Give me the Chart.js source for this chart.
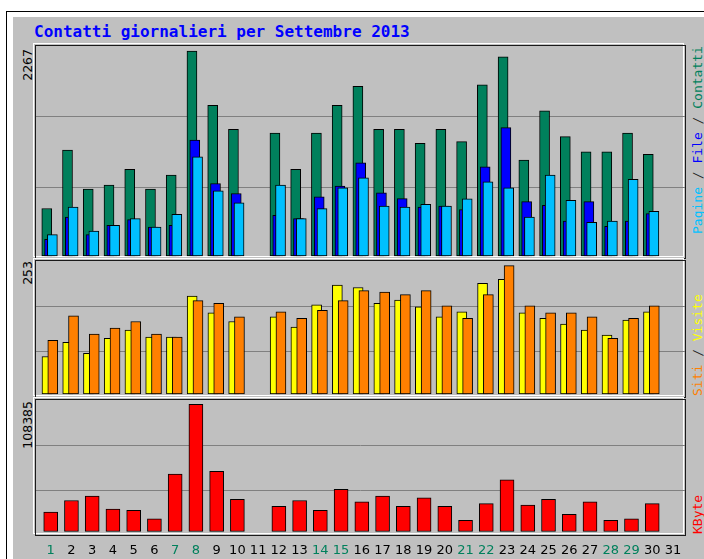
<!DOCTYPE html>
<html>
<head>
<meta charset="utf-8">
<script src="https://cdn.jsdelivr.net/npm/chart.js@4.4.0/dist/chart.umd.min.js"></script>
<style>
body{margin:0;background:#fff;width:704px;height:559px;overflow:hidden;position:relative}
#frame{position:absolute;left:6px;top:11px;width:760px;height:600px;border:1px solid #000;background:#fff}
#bg{position:absolute;left:13px;top:17px;width:760px;height:600px;background:#c0c0c0}
.hl{position:absolute;border:1px solid #fff;box-sizing:border-box}
.panel{position:absolute;border:1px solid #1a1a1a;box-sizing:border-box}
canvas{position:absolute}
#title{position:absolute;left:34px;top:24px;font:bold 16px/16px "DejaVu Sans Mono",monospace;color:#0000ff;white-space:nowrap}
.ylab{position:absolute;width:60px;font:12.5px/13px "DejaVu Sans",sans-serif;color:#000;text-align:right;white-space:nowrap;transform-origin:0 0;transform:rotate(-90deg)}
.rlab{position:absolute;font:13px/13px "DejaVu Sans Mono",monospace;color:#222;white-space:nowrap;transform-origin:0 0;transform:rotate(-90deg)}
</style>
</head>
<body>
<div id="frame"></div>
<div id="bg"></div>
<div id="title">Contatti giornalieri per Settembre 2013</div>

<div class="hl" style="left:33px;top:43px;width:651px;height:214px"></div>
<div class="panel" style="left:35px;top:45px;width:651px;height:214px"></div>
<div class="hl" style="left:33px;top:258px;width:651px;height:138px"></div>
<div class="panel" style="left:35px;top:260px;width:651px;height:138px"></div>
<div class="hl" style="left:33px;top:397px;width:651px;height:137px"></div>
<div class="panel" style="left:35px;top:399px;width:651px;height:137px"></div>

<div class="ylab" style="left:21px;top:109px">2267</div>
<div class="ylab" style="left:21px;top:321px">253</div>
<div class="ylab" style="left:21px;top:461px">108385</div>

<div class="rlab" style="left:691px;top:234px"><span style="color:#00c0ff">Pagine</span> / <span style="color:#0000ff">File</span> / <span style="color:#00805c">Contatti</span></div>
<div class="rlab" style="left:691px;top:396px"><span style="color:#ff8000">Siti</span> / <span style="color:#ffff00">Visite</span></div>
<div class="rlab" style="left:691px;top:534px"><span style="color:#ff0000">KByte</span></div>

<canvas id="hitsChart" width="649" height="212" style="left:36px;top:46px"></canvas>
<canvas id="visitsChart" width="649" height="136" style="left:36px;top:261px"></canvas>
<canvas id="kbChart" width="649" height="161" style="left:36px;top:400px"></canvas>

<script>
const days = [1,2,3,4,5,6,7,8,9,10,11,12,13,14,15,16,17,18,19,20,21,22,23,24,25,26,27,28,29,30]
const tickLabels = ["1","2","3","4","5","6","7","8","9","10","11","12","13","14","15","16","17","18","19","20","21","22","23","24","25","26","27","28","29","30","31"]
const weekendDays = [1,7,8,14,15,21,22,28,29]

const hits = [525,1172,739,783,958,739,894,2267,1665,1402,null,1358,958,1358,1665,1876,1402,1402,1247,1402,1265,1894,2202,1061,1606,1320,1153,1153,1358,1124]
const files = [183,431,236,339,402,320,339,1283,802,691,null,450,413,653,772,1031,698,635,542,553,513,987,1420,602,561,387,602,328,387,469]
const pages = [236,542,276,339,413,320,461,1098,720,587,null,783,413,524,753,864,553,542,572,553,631,820,753,431,894,617,372,387,847,494]

const visits = [74,102,80,110,126,112,112,193,160,143,null,152,132,176,215,210,179,185,172,152,162,218,226,160,149,138,126,116,146,162]
const sites = [106,154,118,130,143,118,112,184,179,152,null,162,149,165,184,204,201,196,204,174,149,196,253,174,160,160,152,110,149,174]

const kbytes = [16600,26400,30100,19200,18100,10900,49000,108385,51300,27500,null,21500,26400,18100,35900,25200,30100,21500,28700,21500,9500,23800,44100,22600,27500,14600,25200,9500,10900,23800]

const maxHits = 2267
const maxVisits = 253
const maxKb = 108385

Chart.defaults.font.family = "DejaVu Sans"

// x range so that day 1 sits at ~50px and days are ~20.7px apart
const xMin = 0.291
const xMax = 31.58

function barSet(label, values, offset, color, thick){
    return {
        label: label,
        data: days.map((d,i) => ({x: d + offset, y: values[i]})).filter(p => p.y !== null),
        backgroundColor: color,
        borderColor: "#000",
        borderWidth: 1,
        borderSkipped: false,
        barThickness: thick,
        grouped: false
    }
}

function yScale(maxVal, h, padTop, padBottom){
    const u = maxVal / (h - padTop - padBottom)
    return {
        min: -padBottom * u,
        max: maxVal + padTop * u,
        display: true,
        ticks: {display: false},
        border: {display: false},
        grid: {color: "#808080", lineWidth: 1, drawTicks: false},
        afterBuildTicks: s => {
            const span = s.max - s.min
            s.ticks = [{value: s.min + span / 3}, {value: s.min + 2 * span / 3}]
        }
    }
}

function xScale(showLabels){
    const x = {
        type: "linear",
        min: xMin,
        max: xMax,
        offset: false,
        display: showLabels,
        grid: {display: false, drawTicks: false, offset: false},
        border: {display: false},
        afterBuildTicks: s => {
            s.ticks = tickLabels.map((t,i) => ({value: i + 1}))
        },
        ticks: {
            autoSkip: false,
            maxRotation: 0,
            padding: 8,
            font: {size: 13, family: "DejaVu Sans"},
            color: ctx => weekendDays.includes(ctx.tick.value) ? "#00805c" : "#000",
            callback: (v, i) => tickLabels[i]
        }
    }
    if (showLabels) {
        x.afterFit = s => {
            s.height = 26
            s.paddingLeft = 0
            s.paddingRight = 0
        }
    }
    return x
}

function baseOptions(yOpts, showLabels){
    return {
        responsive: false,
        maintainAspectRatio: false,
        animation: false,
        events: [],
        layout: {padding: 0},
        plugins: {legend: {display: false}, tooltip: {enabled: false}},
        scales: {x: xScale(showLabels), y: yOpts}
    }
}

new Chart(document.getElementById("hitsChart"), {
    type: "bar",
    data: {
        datasets: [
            barSet("Pagine", pages, 0.08, "#00c0ff", 10),
            barSet("File", files, -0.055, "#0000ff", 10),
            barSet("Contatti", hits, -0.19, "#00805c", 10)
        ]
    },
    options: baseOptions(yScale(maxHits, 212, 5, 2), false)
})

new Chart(document.getElementById("visitsChart"), {
    type: "bar",
    data: {
        datasets: [
            barSet("Siti", sites, 0.1, "#ff8000", 10),
            barSet("Visite", visits, -0.18, "#ffff00", 10)
        ]
    },
    options: baseOptions(yScale(maxVisits, 136, 4.7, 3), false)
})

new Chart(document.getElementById("kbChart"), {
    type: "bar",
    data: {
        datasets: [
            barSet("KByte", kbytes, 0, "#ff0000", 14)
        ]
    },
    options: baseOptions(yScale(maxKb, 135, 4.3, 3.5), true)
})
</script>
</body>
</html>
